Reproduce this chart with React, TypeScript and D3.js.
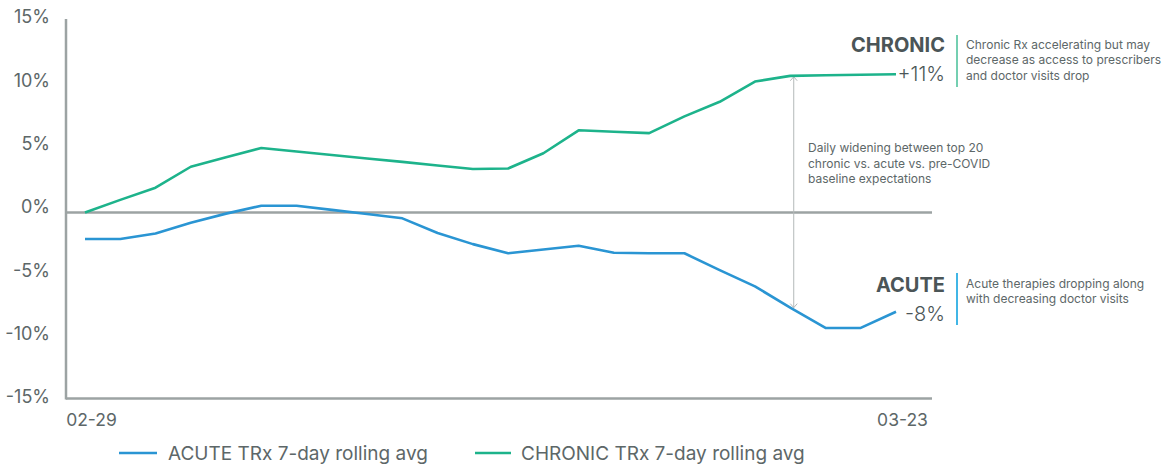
import React from "react";
import * as d3 from "d3";

const dates = [
  "02-29", "03-01", "03-02", "03-03", "03-04", "03-05", "03-06", "03-07",
  "03-08", "03-09", "03-10", "03-11", "03-12", "03-13", "03-14", "03-15",
  "03-16", "03-17", "03-18", "03-19", "03-20", "03-21", "03-22", "03-23",
];
const acute = [
  -2.14, -2.14, -1.7, -0.82, -0.09, 0.55, 0.55, 0.21, -0.12, -0.47, -1.65, -2.55,
  -3.29, -2.99, -2.68, -3.25, -3.29, -3.29, -4.65, -5.96, -7.67, -9.31, -9.31, -8.0,
];
const chronic = [
  0.0, 1.02, 2.0, 3.69, 4.45, 5.2, 4.92, 4.64, 4.36, 4.08, 3.79, 3.51,
  3.55, 4.78, 6.63, 6.51, 6.4, 7.75, 8.93, 10.56, 11.02, 11.07, 11.11, 11.15,
];
const yTicks = [15, 10, 5, 0, -5, -10, -15];
const xTickLabels = ["02-29", "03-23"];
const seriesNames = ["ACUTE TRx 7-day rolling avg", "CHRONIC TRx 7-day rolling avg"];
const chronicNote = ["Chronic Rx accelerating but may", "decrease as access to prescribers", "and doctor visits drop"];
const acuteNote = ["Acute therapies dropping along", "with decreasing doctor visits"];
const gapNote = ["Daily widening between top 20", "chronic vs. acute vs. pre-COVID", "baseline expectations"];
const gapIndex = 20.1;

const BLUE = "#2a95d3";
const GREEN = "#1db38b";
const AXIS = "#9ca3a3";
const TEXT = "#5d6768";
const DARK = "#4b5557";
const FONT = "Inter, 'Noto Sans', sans-serif";

export default function App() {
  const x = d3.scaleLinear().domain([0, dates.length - 1]).range([85, 896]);
  const y = d3.scaleLinear().domain([-15, 15]).range([398.5, 26.5]);
  const yLabel = d3.scaleLinear().domain([-15, 15]).range([397, 17]);
  const left = 66;
  const right = 932;
  const top = 19;

  const line = d3
    .line<number>()
    .x((_, i) => x(i))
    .y((d) => y(d));

  const interp = (arr: number[], t: number) => {
    const i = Math.floor(t);
    const f = t - i;
    return arr[i] + (arr[Math.min(i + 1, arr.length - 1)] - arr[i]) * f;
  };
  const gx = x(gapIndex);
  const gTop = y(interp(chronic, gapIndex));
  const gBot = y(interp(acute, gapIndex));

  const lastI = dates.length - 1;
  const annX = 945;
  const noteX = 966;

  return (
    <div style={{ position: "absolute", left: 0, top: 0 }}>
      <svg width={1175} height={466} style={{ display: "block", fontFamily: FONT }}>
        {/* axes */}
        <line x1={left} x2={left} y1={top} y2={y(-15) + 1} stroke={AXIS} strokeWidth={2.5} />
        <line x1={left} x2={right} y1={y(-15)} y2={y(-15)} stroke={AXIS} strokeWidth={2.5} />
        <line x1={left} x2={right} y1={y(0)} y2={y(0)} stroke={AXIS} strokeWidth={2.5} />
        {yTicks.map((t) => (
          <text
            key={t}
            x={50}
            y={yLabel(t)}
            dy="0.36em"
            textAnchor="end"
            fontSize={18}
            fill={TEXT}
          >
            {`${t}%`}
          </text>
        ))}
        {xTickLabels.map((lab) => {
          const i = dates.indexOf(lab);
          return (
            <text key={lab} x={x(i) + 6.5} y={426} textAnchor="middle" fontSize={17.5} fill={TEXT}>
              {lab}
            </text>
          );
        })}

        {/* gap arrow */}
        <line x1={gx} x2={gx} y1={gTop + 1} y2={gBot - 2} stroke="#b4b9b9" strokeWidth={1} />
        <path
          d={`M${gx - 3.5},${gTop + 5} L${gx},${gTop + 1} L${gx + 3.5},${gTop + 5}`}
          fill="none"
          stroke="#b4b9b9"
          strokeWidth={1}
        />
        <path
          d={`M${gx - 3.5},${gBot - 6} L${gx},${gBot - 2} L${gx + 3.5},${gBot - 6}`}
          fill="none"
          stroke="#b4b9b9"
          strokeWidth={1}
        />
        {gapNote.map((s, k) => (
          <text key={k} x={808} y={148 + k * 15.3} dy="0.35em" fontSize={12} fill={TEXT}>
            {s}
          </text>
        ))}

        {/* series */}
        <path d={line(chronic) || ""} fill="none" stroke={GREEN} strokeWidth={2.6} strokeLinejoin="round" />
        <path d={line(acute) || ""} fill="none" stroke={BLUE} strokeWidth={2.6} strokeLinejoin="round" />

        {/* end annotations */}
        <text x={annX} y={52} textAnchor="end" fontSize={20} fontWeight={700} fill={DARK}>
          CHRONIC
        </text>
        <text x={annX} y={y(chronic[lastI]) + 7} textAnchor="end" fontSize={20} fontWeight={300} fill={DARK}>
          {`+${Math.round(chronic[lastI])}%`}
        </text>
        <line x1={957} x2={957} y1={35} y2={87} stroke="#74cfb1" strokeWidth={2} />
        {chronicNote.map((s, k) => (
          <text key={k} x={noteX} y={44.5 + k * 15.6} dy="0.35em" fontSize={12} fill={TEXT}>
            {s}
          </text>
        ))}

        <text x={annX} y={292} textAnchor="end" fontSize={20} fontWeight={700} fill={DARK}>
          ACUTE
        </text>
        <text x={annX} y={y(acute[lastI]) + 9} textAnchor="end" fontSize={20} fontWeight={300} fill={DARK}>
          {`${Math.round(acute[lastI])}%`}
        </text>
        <line x1={957} x2={957} y1={273} y2={325} stroke="#41b6e6" strokeWidth={2} />
        {acuteNote.map((s, k) => (
          <text key={k} x={noteX} y={283.5 + k * 15.6} dy="0.35em" fontSize={12} fill={TEXT}>
            {s}
          </text>
        ))}

        {/* legend */}
        <line x1={119} x2={157} y1={453} y2={453} stroke={BLUE} strokeWidth={2.6} />
        <text x={168} y={453} dy="0.36em" fontSize={19} fill={TEXT}>
          {seriesNames[0]}
        </text>
        <line x1={475} x2={511} y1={453} y2={453} stroke={GREEN} strokeWidth={2.6} />
        <text x={521} y={453} dy="0.36em" fontSize={19} fill={TEXT}>
          {seriesNames[1]}
        </text>
      </svg>
    </div>
  );
}
